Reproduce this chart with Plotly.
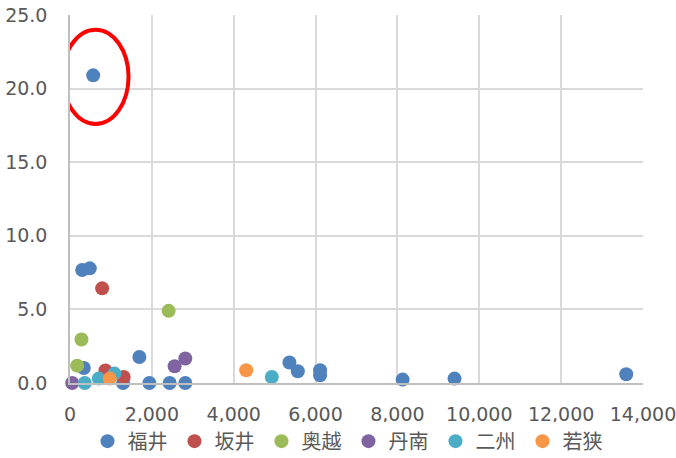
import plotly.graph_objects as go

series_names = ["福井", "坂井", "奥越", "丹南", "二州", "若狭"]
series_colors = ["#4F81BD", "#C0504D", "#9BBB59", "#8064A2", "#4BACC6", "#F79646"]

fukui_x = [566, 298, 483, 1695, 337, 1297, 1939, 2435, 2817, 5361, 5566, 6110, 6110, 8127, 9395, 13590]
fukui_y = [20.9, 7.68, 7.79, 1.77, 1.02, 0.0, 0.0, 0.0, 0.0, 1.39, 0.80, 0.87, 0.52, 0.23, 0.30, 0.59]

sakai_x = [785, 866, 1312]
sakai_y = [6.43, 0.85, 0.41]

okuetsu_x = [2410, 280, 175]
okuetsu_y = [4.90, 2.96, 1.18]

tannan_x = [53, 2556, 2817]
tannan_y = [0.0, 1.14, 1.66]

nishu_x = [361, 703, 1085, 4931]
nishu_y = [0.0, 0.30, 0.64, 0.41]

wakasa_x = [971, 4305]
wakasa_y = [0.30, 0.87]

xs = [fukui_x, sakai_x, okuetsu_x, tannan_x, nishu_x, wakasa_x]
ys = [fukui_y, sakai_y, okuetsu_y, tannan_y, nishu_y, wakasa_y]

x_ticks = [0, 2000, 4000, 6000, 8000, 10000, 12000, 14000]
y_ticks = [0, 5, 10, 15, 20, 25]

# highlight ellipse around the outlier (data coords)
ellipse_x = [-180, 1430]
ellipse_y = [17.6, 24.0]

fig = go.Figure()
for name, color, x, y in zip(series_names, series_colors, xs, ys):
    fig.add_trace(go.Scatter(
        x=x, y=y, mode="markers", name=name,
        marker=dict(size=14, color=color, line=dict(width=0)),
        cliponaxis=False,
    ))

fig.add_shape(type="circle", xref="x", yref="y",
              x0=ellipse_x[0], x1=ellipse_x[1], y0=ellipse_y[0], y1=ellipse_y[1],
              line=dict(color="#FF0000", width=4))

tick_font = dict(family="DejaVu Sans, sans-serif", size=19, color="#595959")

fig.update_layout(
    width=676, height=458,
    margin=dict(l=69.5, r=33, t=15, b=75, autoexpand=False),
    paper_bgcolor="white", plot_bgcolor="white",
    showlegend=True,
    legend=dict(
        orientation="h", x=0.486, xanchor="center", y=-0.158, yanchor="middle",
        font=dict(family="Noto Sans CJK JP, sans-serif", size=20, color="#595959"),
        entrywidth=42, entrywidthmode="pixels", itemsizing="trace",
        traceorder="normal",
    ),
)
fig.update_xaxes(
    range=[0, 14000], tickvals=x_ticks, tickformat=",",
    showgrid=True, gridcolor="#D9D9D9", gridwidth=1.5,
    showline=True, linecolor="#BFBFBF", linewidth=1.5,
    zeroline=False, ticks="", tickfont=tick_font, ticklabelstandoff=13,
    ticklabeloverflow="allow", automargin=False,
)
fig.update_yaxes(
    range=[0, 25], tickvals=y_ticks, tickformat=".1f",
    showgrid=True, gridcolor="#D9D9D9", gridwidth=1.5,
    showline=True, linecolor="#BFBFBF", linewidth=1.5,
    zeroline=False, ticks="", tickfont=tick_font, ticklabelstandoff=17,
    ticklabeloverflow="allow", automargin=False,
)

fig.write_html("out.html", config={"displayModeBar": False},
               post_script="document.body.style.margin='0';document.body.style.padding='0';")
